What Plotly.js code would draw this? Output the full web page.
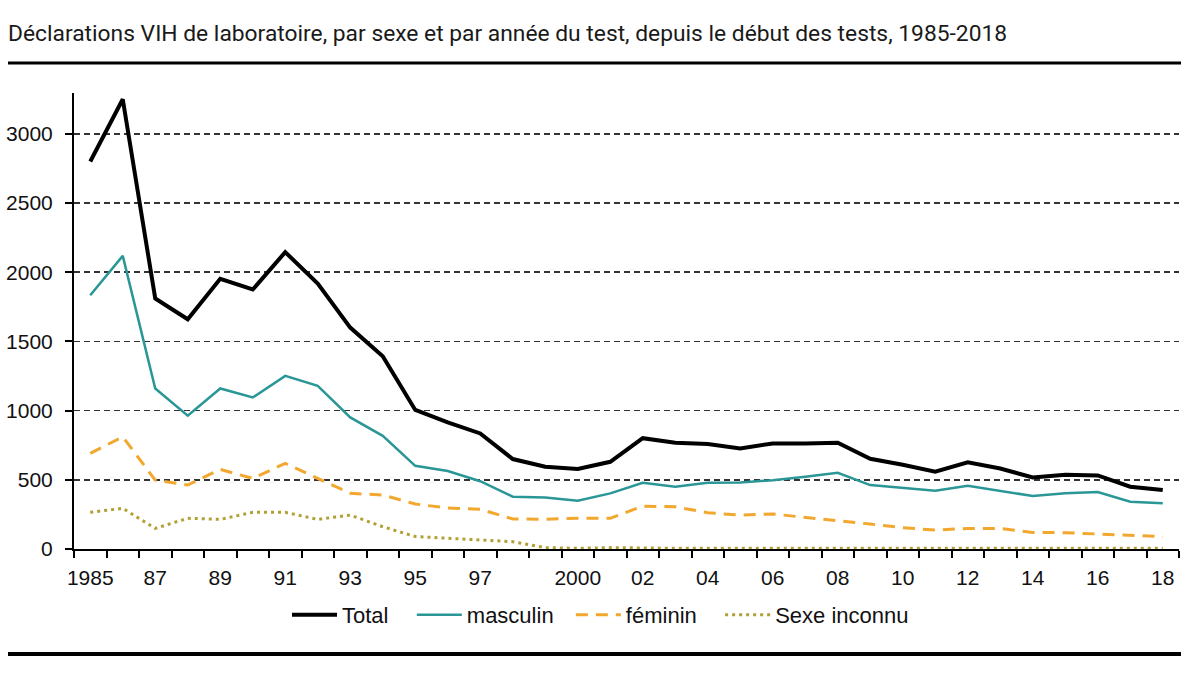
<!DOCTYPE html>
<html>
<head>
<meta charset="utf-8">
<script src="https://cdn.plot.ly/plotly-3.0.1.min.js"></script>
<style>html,body{margin:0;padding:0;background:#fff;}#chart{width:1200px;height:692px;}</style>
</head>
<body>
<div id="chart"></div>
<script>
const years = [1985,1986,1987,1988,1989,1990,1991,1992,1993,1994,1995,1996,1997,1998,1999,2000,2001,2002,2003,2004,2005,2006,2007,2008,2009,2010,2011,2012,2013,2014,2015,2016,2017,2018];
const total = [2800,3250,1810,1660,1952,1875,2145,1918,1600,1393,1005,915,835,650,594,578,630,801,768,758,727,763,763,768,652,609,558,626,582,517,537,532,450,426];
const masculin = [1834,2118,1160,963,1160,1095,1251,1179,951,818,601,563,490,378,372,349,402,479,450,479,481,497,522,551,462,443,421,457,419,383,402,412,342,330];
const feminin = [691,811,498,462,575,510,619,510,402,390,325,296,287,217,215,222,222,310,305,262,245,253,226,204,180,154,137,149,149,120,118,108,96,89];
const inconnu = [265,294,149,222,214,265,265,214,245,161,90,77,65,53,10,5,10,5,5,5,5,5,5,5,5,5,5,5,5,5,5,5,5,5];
const tickYears = [1985,1987,1989,1991,1993,1995,1997,2000,2002,2004,2006,2008,2010,2012,2014,2016,2018];
const tickText = ["1985","87","89","91","93","95","97","2000","02","04","06","08","10","12","14","16","18"];
const yTicks = [0,500,1000,1500,2000,2500,3000];
const seriesNames = ["Total","masculin","féminin","Sexe inconnu"];

const boundaries = [];
for (let i = 0; i <= years.length; i++) boundaries.push(years[0] - 0.5 + i);
const pad = n => '\u00a0'.repeat(n);

const traces = [
  {x: years, y: total, name: seriesNames[0] + pad(3), type: 'scatter', mode: 'lines',
   line: {color: '#000000', width: 4}},
  {x: years, y: masculin, name: seriesNames[1] + pad(2), type: 'scatter', mode: 'lines',
   line: {color: '#2a9696', width: 2.5}},
  {x: years, y: feminin, name: seriesNames[2] + pad(3), type: 'scatter', mode: 'lines',
   line: {color: '#f2a72e', width: 3, dash: '12px,8px'}},
  {x: years, y: inconnu, name: seriesNames[3], type: 'scatter', mode: 'lines', xaxis: 'x2',
   line: {color: '#b3a035', width: 3, dash: '3px,4px'}}
];

const xr = [years[0] - 0.5, years[years.length - 1] + 0.5];
const layout = {
  width: 1200, height: 692,
  margin: {l: 74, r: 21, t: 93, b: 143},
  paper_bgcolor: '#ffffff', plot_bgcolor: '#ffffff',
  showlegend: true,
  title: {
    text: 'Déclarations VIH de laboratoire, par sexe et par année du test, depuis le début des tests, 1985-2018',
    font: {family: 'Roboto, sans-serif', size: 22.8, color: '#1a1a1a'},
    xref: 'container', x: 8/1200, xanchor: 'left',
    yref: 'container', y: 1 - 33/692, yanchor: 'middle'
  },
  xaxis: {
    range: xr, type: 'linear', tickmode: 'array', tickvals: boundaries,
    showticklabels: false, ticks: 'outside', ticklen: 7, tickwidth: 2, tickcolor: '#000',
    showline: true, linecolor: '#000', linewidth: 2, showgrid: false, zeroline: false,
    fixedrange: true
  },
  xaxis2: {
    range: xr, type: 'linear', overlaying: 'x', anchor: 'y', side: 'bottom',
    tickmode: 'array', tickvals: tickYears, ticktext: tickText, ticks: '',
    ticklabelstandoff: 14,
    tickfont: {family: 'Liberation Sans, Arial, sans-serif', size: 21, color: '#111'},
    showline: false, showgrid: false, zeroline: false, fixedrange: true
  },
  yaxis: {
    range: [0, 3295], tickmode: 'array', tickvals: yTicks,
    ticks: 'outside', ticklen: 7, tickwidth: 2, tickcolor: '#000',
    ticklabelstandoff: 8,
    tickfont: {family: 'Liberation Sans, Arial, sans-serif', size: 21, color: '#111'},
    showline: true, linecolor: '#000', linewidth: 2,
    showgrid: true, gridcolor: '#333333', gridwidth: 1.5, griddash: '6px,4px',
    zeroline: false, fixedrange: true
  },
  legend: {
    orientation: 'h', x: (287 - 74) / 1105, xanchor: 'left',
    y: -(615 - 549) / 456, yanchor: 'middle', itemwidth: 45,
    font: {family: 'Liberation Sans, Arial, sans-serif', size: 22, color: '#111'},
    bgcolor: 'rgba(0,0,0,0)', itemclick: false
  },
  shapes: [
    {type: 'line', xref: 'paper', yref: 'paper', x0: (8 - 74) / 1105, x1: (1181 - 74) / 1105,
     y0: (549 - 63) / 456, y1: (549 - 63) / 456, line: {color: '#000', width: 3}},
    {type: 'line', xref: 'paper', yref: 'paper', x0: (8 - 74) / 1105, x1: (1181 - 74) / 1105,
     y0: -(654 - 549) / 456, y1: -(654 - 549) / 456, line: {color: '#000', width: 4}}
  ]
};

Plotly.newPlot('chart', traces, layout, {staticPlot: true, displayModeBar: false});
</script>
</body>
</html>
